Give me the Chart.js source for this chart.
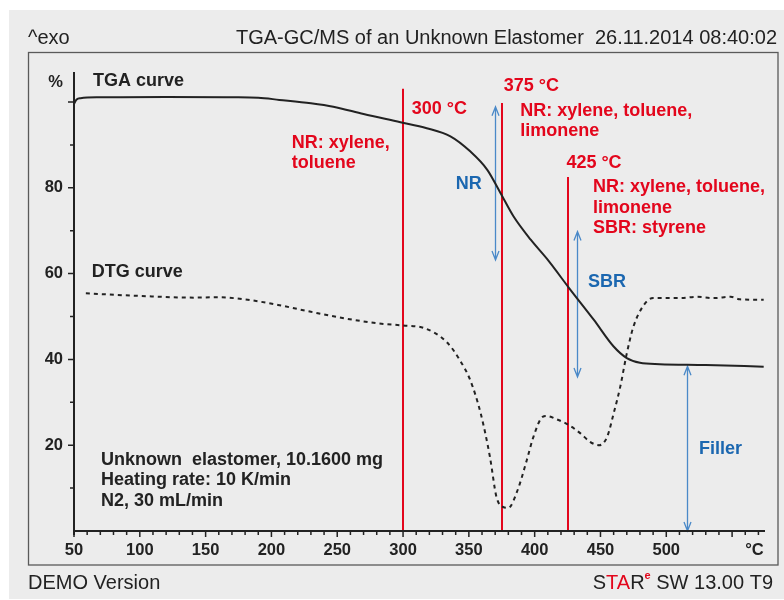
<!DOCTYPE html>
<html>
<head>
<meta charset="utf-8">
<script src="https://cdn.jsdelivr.net/npm/chart.js@4.4.1/dist/chart.umd.min.js"></script>
<style>
  html, body { margin: 0; padding: 0; background: #ffffff; }
  #wrap { position: relative; width: 784px; height: 600px; }
  canvas { display: block; }
</style>
</head>
<body>
<div id="wrap"><canvas id="c" width="784" height="600"></canvas></div>
<script>
// ---------- data ----------
const tgaTemp = [50, 52, 55, 70, 120, 170, 190, 206, 230, 247, 270, 298, 318, 336, 351, 364, 374, 384, 397, 410, 426, 445, 460, 470, 480, 495, 530, 574];
const tgaMass = [99.6, 100.6, 100.9, 101.1, 101.2, 101.1, 101.0, 100.5, 99.7, 98.9, 97.2, 95.3, 93.9, 92.0, 88.5, 84.2, 78.8, 73.3, 67.9, 63.2, 56.7, 49.2, 43.0, 40.3, 39.2, 38.9, 38.7, 38.3];

const dtgTemp = [59, 100, 141, 159, 182, 205, 230, 255, 281, 300, 316, 333, 343, 351, 359, 366, 371, 376, 380, 387, 394, 399, 406, 409, 417, 426, 435, 442, 449, 455, 460, 465, 470, 475, 483, 490, 511, 523, 536, 549, 556, 574];
const dtgValue = [55.4, 54.8, 54.4, 54.5, 53.9, 52.7, 51.1, 49.6, 48.4, 47.9, 47.3, 44.1, 39.9, 35.2, 27.4, 17.3, 7.9, 5.6, 5.4, 9.5, 16.5, 21.9, 26.6, 26.8, 26.0, 24.7, 22.7, 20.8, 20.0, 21.9, 27.4, 33.6, 41.4, 47.6, 52.7, 54.3, 54.3, 54.6, 54.3, 54.6, 54.0, 53.9];

// tick labels
const xTickValues = [50, 100, 150, 200, 250, 300, 350, 400, 450, 500, 567];
const xTickLabels = ['50', '100', '150', '200', '250', '300', '350', '400', '450', '500', '°C'];
const yTickValues = [20, 40, 60, 80, 104.6];
const yTickLabels = ['20', '40', '60', '80', '%'];

// marker lines (temperatures of GC/MS cuts) and their top values
const markerTemps = [300, 375, 425];
const markerTops = [103.1, 99.8, 82.5];

// double-headed arrows: x, y from, y to
const arrowX = [370.2, 432.4, 515.6];
const arrowFrom = [98.9, 69.8, 38.4];
const arrowTo = [63.2, 35.9, 0];

// annotation texts (lines), anchored at left / middle of first line
const annoText = [
  ['TGA curve'],
  ['DTG curve'],
  ['NR: xylene,', 'toluene'],
  ['300 °C'],
  ['375 °C'],
  ['NR: xylene, toluene,', 'limonene'],
  ['425 °C'],
  ['NR: xylene, toluene,', 'limonene', 'SBR: styrene'],
  ['NR'],
  ['SBR'],
  ['Filler'],
  ['Unknown  elastomer, 10.1600 mg', 'Heating rate: 10 K/min', 'N2, 30 mL/min']
];
const annoX = [64.4, 63.4, 215.5, 306.6, 376.5, 389.1, 424.1, 444.3, 340.0, 440.5, 524.8, 70.5];
const annoY = [105.0, 60.3, 90.5, 98.3, 103.8, 98.0, 85.7, 80.1, 80.9, 58.1, 19.2, 16.5];
const annoKind = ['dark', 'dark', 'red', 'red', 'red', 'red', 'red', 'red', 'blue', 'blue', 'blue', 'dark'];

const FONT = '"Liberation Sans", Arial, Helvetica, sans-serif';
const DARK = '#222222';
const RED = '#e3061c';
const BLUE_TXT = '#1b67b0';
const BLUE_ARR = '#4a89c8';

const xMin = 50, xMax = 575, yMin = 0, yMax = 107;

// ---------- plugins ----------
const decor = {
  id: 'decor',
  beforeDraw(chart) {
    const ctx = chart.ctx;
    ctx.save();
    ctx.fillStyle = '#ffffff';
    ctx.fillRect(0, 0, chart.width, chart.height);
    ctx.fillStyle = '#ececec';
    ctx.fillRect(9, 10, chart.width - 9, 589);
    // frame
    ctx.strokeStyle = '#5a5a5a';
    ctx.lineWidth = 1.3;
    ctx.strokeRect(28.5, 52.5, 749.5, 512.5);
    // header
    ctx.fillStyle = DARK;
    ctx.font = '20px ' + FONT;
    ctx.textBaseline = 'middle';
    ctx.textAlign = 'left';
    ctx.fillText('^exo', 28, 38.5);
    ctx.textAlign = 'right';
    ctx.fillText('TGA-GC/MS of an Unknown Elastomer  26.11.2014 08:40:02', 777, 38.5);
    // footer
    ctx.textAlign = 'left';
    ctx.fillText('DEMO Version', 28, 583);
    const parts = [['S', DARK, 20, 0], ['TA', RED, 20, 0], ['R', DARK, 20, 0], ['e', RED, 11, -7], [' SW 13.00 T9', DARK, 20, 0]];
    let total = 0;
    parts.forEach(p => { ctx.font = (p[2] < 20 ? 'bold ' : '') + p[2] + 'px ' + FONT; total += ctx.measureText(p[0]).width; });
    let x = 773 - total;
    parts.forEach(p => {
      ctx.font = (p[2] < 20 ? 'bold ' : '') + p[2] + 'px ' + FONT;
      ctx.fillStyle = p[1];
      ctx.fillText(p[0], x, 583 + p[3]);
      x += ctx.measureText(p[0]).width;
    });
    ctx.restore();
  },
  beforeDatasetsDraw(chart) {
    const ctx = chart.ctx;
    const xs = chart.scales.x, ys = chart.scales.y;
    ctx.save();
    // red marker lines
    ctx.strokeStyle = RED;
    ctx.lineWidth = 2;
    markerTemps.forEach((t, i) => {
      const px = Math.round(xs.getPixelForValue(t));
      ctx.beginPath();
      ctx.moveTo(px, ys.getPixelForValue(markerTops[i]));
      ctx.lineTo(px, ys.getPixelForValue(0));
      ctx.stroke();
    });
    // blue arrows
    ctx.strokeStyle = BLUE_ARR;
    ctx.lineWidth = 1.3;
    arrowX.forEach((t, i) => {
      const px = Math.round(xs.getPixelForValue(t)) + 0.5;
      const y1 = ys.getPixelForValue(arrowFrom[i]);
      const y2 = ys.getPixelForValue(arrowTo[i]);
      ctx.beginPath();
      ctx.moveTo(px, y1); ctx.lineTo(px, y2);
      ctx.moveTo(px - 3.5, y1 + 9); ctx.lineTo(px, y1); ctx.lineTo(px + 3.5, y1 + 9);
      ctx.moveTo(px - 3.5, y2 - 9); ctx.lineTo(px, y2); ctx.lineTo(px + 3.5, y2 - 9);
      ctx.stroke();
    });
    ctx.restore();
  },
  afterDatasetsDraw(chart) {
    const ctx = chart.ctx;
    const xs = chart.scales.x, ys = chart.scales.y;
    ctx.save();
    // axes
    const x0 = xs.getPixelForValue(xMin);
    const x1 = xs.getPixelForValue(xMax);
    const y0 = ys.getPixelForValue(yMin);
    const yTop = ys.getPixelForValue(yMax);
    ctx.strokeStyle = DARK;
    ctx.lineWidth = 2;
    ctx.beginPath();
    ctx.moveTo(x0, yTop); ctx.lineTo(x0, y0 + 4);
    ctx.moveTo(x0 - 1, y0); ctx.lineTo(x1, y0);
    ctx.stroke();
    ctx.lineWidth = 1.5;
    ctx.beginPath();
    for (let t = 50; t <= 570; t += 10) {
      const px = xs.getPixelForValue(t);
      const len = (t % 50 === 0) ? 6 : 4;
      ctx.moveTo(px, y0); ctx.lineTo(px, y0 + len);
    }
    for (let v = 10; v <= 100; v += 10) {
      const py = ys.getPixelForValue(v);
      const len = (v % 20 === 0) ? 6 : 4;
      ctx.moveTo(x0, py); ctx.lineTo(x0 - len, py);
    }
    ctx.stroke();
    // annotations
    ctx.textAlign = 'left';
    ctx.textBaseline = 'middle';
    ctx.font = 'bold 18px ' + FONT;
    annoText.forEach((lines, i) => {
      ctx.fillStyle = annoKind[i] === 'red' ? RED : (annoKind[i] === 'blue' ? BLUE_TXT : DARK);
      const px = xs.getPixelForValue(annoX[i]);
      const py = ys.getPixelForValue(annoY[i]);
      lines.forEach((l, k) => ctx.fillText(l, px, py + k * 20.3));
    });
    ctx.restore();
  }
};

// ---------- chart ----------
new Chart(document.getElementById('c'), {
  type: 'line',
  data: {
    datasets: [
      {
        label: 'TGA',
        data: tgaTemp.map((t, i) => ({ x: t, y: tgaMass[i] })),
        borderColor: DARK,
        borderWidth: 2,
        pointRadius: 0,
        cubicInterpolationMode: 'monotone',
        fill: false
      },
      {
        label: 'DTG',
        data: dtgTemp.map((t, i) => ({ x: t, y: dtgValue[i] })),
        borderColor: DARK,
        borderWidth: 2,
        borderDash: [4, 4],
        pointRadius: 0,
        cubicInterpolationMode: 'monotone',
        fill: false
      }
    ]
  },
  options: {
    responsive: false,
    animation: false,
    events: [],
    layout: { padding: { left: 0, top: 72, right: 19, bottom: 0 } },
    plugins: { legend: { display: false }, tooltip: { enabled: false }, title: { display: false } },
    scales: {
      x: {
        type: 'linear',
        min: xMin, max: xMax,
        border: { display: false },
        grid: { display: false, drawTicks: false },
        afterBuildTicks: s => { s.ticks = xTickValues.map(v => ({ value: v })); },
        afterFit: s => { s.height = 69; },
        ticks: {
          autoSkip: false,
          maxRotation: 0,
          padding: 10,
          color: DARK,
          font: { family: FONT, size: 16.5, weight: 'bold' },
          callback: (v) => { const i = xTickValues.indexOf(v); return i >= 0 ? xTickLabels[i] : ''; }
        }
      },
      y: {
        type: 'linear',
        min: yMin, max: yMax,
        border: { display: false },
        grid: { display: false, drawTicks: false },
        afterBuildTicks: s => { s.ticks = yTickValues.map(v => ({ value: v })); },
        afterFit: s => { s.width = 74; },
        ticks: {
          autoSkip: false,
          padding: 11,
          color: DARK,
          font: { family: FONT, size: 16.5, weight: 'bold' },
          callback: (v) => { const i = yTickValues.indexOf(v); return i >= 0 ? yTickLabels[i] : ''; }
        }
      }
    }
  },
  plugins: [decor]
});
</script>
</body>
</html>
